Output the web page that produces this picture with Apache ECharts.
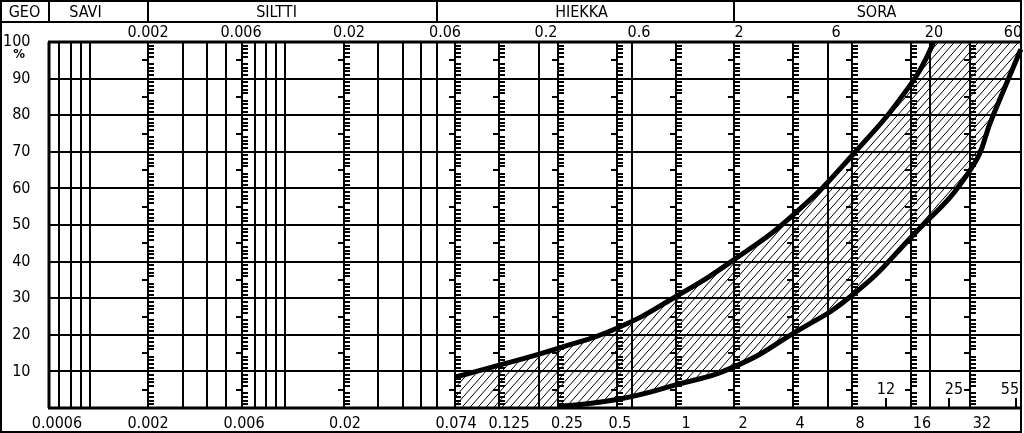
<!DOCTYPE html>
<html><head><meta charset="utf-8">
<script src="https://cdn.jsdelivr.net/npm/echarts@6/dist/echarts.min.js"></script>
<style>html,body{margin:0;padding:0;background:#fff}#c{width:1024px;height:433px}</style>
</head><body><div id="c"></div>
<script>
// ---------------- data ----------------
const headerLabels = ['GEO', 'SAVI', 'SILTTI', 'HIEKKA', 'SORA'];
const headerBounds = [0.002, 0.06, 2];            // fraction boundaries (mm)
const topLabels = ['0.002', '0.006', '0.02', '0.06', '0.2', '0.6', '2', '6', '20', '60'];
const bottomLabels = ['0.0006', '0.002', '0.006', '0.02', '0.074', '0.125', '0.25', '0.5', '1', '2', '4', '8', '16', '32'];
const rulerValues = [0.002, 0.006, 0.02, 0.074, 0.125, 0.25, 0.5, 1, 2, 4, 8, 16, 32];
const plainLines = [0.0007, 0.0008, 0.0009, 0.001, 0.003, 0.004, 0.005, 0.007, 0.008, 0.009, 0.01,
                    0.03, 0.04, 0.05, 0.06, 0.2, 0.6, 6, 20];
const markerValues = [12, 25, 55];
const yTicks = [0, 10, 20, 30, 40, 50, 60, 70, 80, 90, 100];
// upper (fine) boundary curve
const upperSize = [0.074, 0.125, 0.25, 0.5, 1, 2, 4, 8, 16, 20.9];
const upperPass = [8.4, 11.7, 16.3, 21.8, 30.4, 40.6, 52.8, 69, 88.5, 100];
// lower (coarse) boundary curve
const lowerSize = [0.25, 0.5, 1, 2, 4, 8, 16, 32, 42.2, 58.5];
const lowerPass = [0.5, 2.3, 6.3, 11.3, 20.4, 30.8, 46.6, 64.8, 80, 98];

// ---------------- layout / style ----------------
const xMin = 0.000623, xMax = 58.6;
const FONT = '"DejaVu Sans Condensed","Liberation Sans Narrow","DejaVu Sans",sans-serif';
const topNudge = {'0.002': 0, '0.006': -1, '0.02': 5, '0.06': 8, '0.2': 7, '0.6': 7, '2': 5, '6': 8, '20': 4, '60': -10};
const bottomNudge = {'0.0006': 11, '0.002': 0, '0.006': 2, '0.02': 1, '0.074': 1, '0.125': 10, '0.25': 9,
                     '0.5': 3, '1': 10, '2': 9, '4': 7, '8': 8, '16': 11, '32': 12};
const headerNudge = [0, -13, -16, -4, -1];
const markerNudge = [0, 5, -6];

function hatchCanvas() {
  const w = 8, h = 9;
  const c = document.createElement('canvas');
  c.width = w; c.height = h;
  const g = c.getContext('2d');
  g.strokeStyle = '#000'; g.lineWidth = 1;
  g.beginPath();
  for (const dx of [-w, 0, w]) { g.moveTo(dx, h); g.lineTo(dx + w, 0); }
  g.stroke();
  return c;
}
const hatch = {image: hatchCanvas(), repeat: 'repeat'};

function pairs(xs, ys) { return xs.map((x, i) => [x, ys[i]]); }

function renderFrame(params, api) {
  const ch = [];
  const X = v => Math.round(api.coord([v, 0])[0]);
  const Y = p => api.coord([xMin, p])[1];
  const L = (x1, y1, x2, y2, w) => ch.push({type: 'line', shape: {x1, y1, x2, y2}, style: {stroke: '#000', lineWidth: w}});
  const T = (text, x, y, size, weight) => ch.push({type: 'text', style: {
    text, x, y, textAlign: 'center', textVerticalAlign: 'middle',
    font: (weight || 'normal') + ' ' + size + 'px ' + FONT, fill: '#000'}});
  const xl = X(xMin), xr = X(xMax), yt = Math.round(Y(100)), yb = Math.round(Y(0));

  // horizontal grid lines
  yTicks.forEach(p => { if (p > 0 && p < 100) { const y = Math.round(Y(p)); L(xl, y, xr, y, 2); } });
  // plain vertical lines
  plainLines.forEach(v => L(X(v), yt, X(v), yb, 2));
  // rulers with percent ticks
  rulerValues.forEach(v => {
    const x = X(v);
    L(x, yt, x, yb, 2);
    for (let p = 1; p < 100; p++) {
      if (p % 10 === 0) continue;
      const y = Math.round(Y(p));
      if (p % 5 === 0) L(x - 6, y, x, y, 2); else L(x, y, x + 6, y, 2);
    }
  });
  // plot frame
  L(xl - 1, yt, xr, yt, 3);
  L(xl - 1, yb, xr, yb, 3);
  L(xl, yt, xl, yb, 3);
  L(xr, 0, xr, 433, 2);
  // outer border
  L(0, 1, xr, 1, 2);
  L(1, 0, 1, 433, 2);
  L(0, 432, xr, 432, 2);
  // header row
  L(0, 22, xr, 22, 2);
  const bx = [0, xl].concat(headerBounds.map(X)).concat([xr]);
  [xl].concat(headerBounds.map(X)).forEach(x => L(x, 0, x, 22, 2));
  headerLabels.forEach((t, i) => T(t, (bx[i] + bx[i + 1]) / 2 + headerNudge[i], 13, 16));
  // top labels
  topLabels.forEach(t => T(t, X(parseFloat(t)) + topNudge[t], 33, 16));
  // bottom labels
  bottomLabels.forEach(t => T(t, X(parseFloat(t)) + bottomNudge[t], 424, 16));
  // marker ticks (12, 25, 55)
  markerValues.forEach((v, i) => {
    const x = X(v);
    L(x, yb - 10, x, yb, 2);
    T(String(v), x + markerNudge[i], yb - 18, 16);
  });
  // percent sign
  T('%', 19, 55, 13, 'bold');
  return {type: 'group', children: ch};
}

function renderHatchRect(params, api) {
  const a = api.coord([api.value(0), 100]);
  const b = api.coord([xMax, 0]);
  return {type: 'rect', shape: {x: a[0], y: a[1], width: b[0] - a[0], height: b[1] - a[1]}, style: {fill: hatch}};
}

const chart = echarts.init(document.getElementById('c'), null, {renderer: 'canvas'});
const smoothCfg = {smooth: 0.5, symbol: 'none'};
chart.setOption({
  animation: false,
  backgroundColor: '#fff',
  grid: {left: 46, right: 3, top: 42, bottom: 25},
  xAxis: {type: 'log', logBase: 10, min: xMin, max: xMax,
    axisLine: {show: false}, axisTick: {show: false}, axisLabel: {show: false}, splitLine: {show: false}},
  yAxis: {type: 'value', min: 0, max: 100, interval: 10,
    axisLine: {show: false}, axisTick: {show: false}, splitLine: {show: false},
    axisLabel: {margin: 19, color: '#000', fontSize: 16, fontFamily: FONT,
      formatter: v => (yTicks.indexOf(v) > 0 ? String(v) : '')}},
  series: [
    Object.assign({type: 'line', z: 1, data: pairs(upperSize, upperPass),
      lineStyle: {width: 0}, areaStyle: {color: hatch, opacity: 1}, silent: true}, smoothCfg),
    {type: 'custom', z: 1, data: [[upperSize[upperSize.length - 1], 100]], renderItem: renderHatchRect, silent: true},
    Object.assign({type: 'line', z: 2, data: pairs(lowerSize, lowerPass),
      lineStyle: {width: 0}, areaStyle: {color: '#fff', opacity: 1}, silent: true}, smoothCfg),
    {type: 'custom', z: 3, clip: false, data: [[1, 50]], renderItem: renderFrame, silent: true},
    Object.assign({type: 'line', z: 4, data: pairs(upperSize, upperPass),
      lineStyle: {width: 5, color: '#000'}, silent: true}, smoothCfg),
    Object.assign({type: 'line', z: 4, data: pairs(lowerSize, lowerPass),
      lineStyle: {width: 5, color: '#000'}, silent: true}, smoothCfg)
  ]
});
</script>
</body></html>
